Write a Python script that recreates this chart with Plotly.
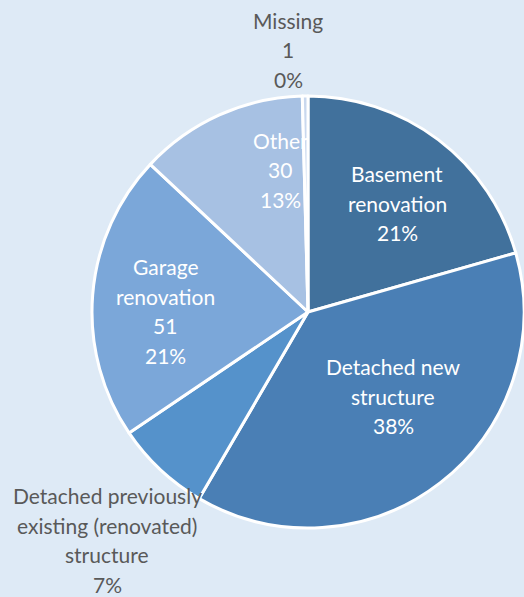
import plotly.graph_objects as go

labels = ["Basement renovation", "Detached new structure",
          "Detached previously existing (renovated) structure",
          "Garage renovation", "Other", "Missing"]
values = [49, 90, 17, 51, 30, 1]
percents = ["21%", "38%", "7%", "21%", "13%", "0%"]
label_lines = [["Basement", "renovation"], ["Detached new", "structure"],
               ["Detached previously", "existing (renovated)", "structure"],
               ["Garage", "renovation"], ["Other"], ["Missing"]]
show_value = [False, False, False, True, True, True]
colors = ["#41719C", "#4A7FB5", "#5592CB", "#7BA7D9", "#A7C1E3", "#C9D8EE"]

W, H = 524, 597
CX, CY, R = 308, 312, 216
# label block centres (pixels) and colours
label_pos = [(397, 203), (393, 396), (107, 540), (165, 311), (280, 170), (288, 50)]
label_col = ["white", "white", "#595959", "white", "white", "#595959"]
LINE = 29.5

fig = go.Figure(go.Pie(
    labels=labels, values=values, sort=False, direction="clockwise", rotation=0,
    marker=dict(colors=colors, line=dict(color="white", width=3)),
    textinfo="none",
    domain=dict(x=[(CX - R) / W, (CX + R) / W], y=[(H - CY - R) / H, (H - CY + R) / H]),
    showlegend=False, hoverinfo="label+value+percent",
))

for i in range(len(labels)):
    lines = list(label_lines[i])
    if show_value[i]:
        lines.append(str(values[i]))
    lines.append(percents[i])
    cx, cy = label_pos[i]
    n = len(lines)
    for j, ln in enumerate(lines):
        y = cy + (j - (n - 1) / 2) * LINE
        fig.add_annotation(text=ln, x=cx / W, y=1 - y / H, xref="paper", yref="paper",
                           xanchor="center", yanchor="middle", showarrow=False,
                           font=dict(color=label_col[i], size=21, family="Lato"))

fig.update_layout(width=W, height=H, margin=dict(l=0, r=0, t=0, b=0),
                  paper_bgcolor="#DEEAF6", plot_bgcolor="#DEEAF6")
fig.write_html("out.html", config={"displayModeBar": False},
               post_script="document.body.style.margin='0';document.body.style.overflow='hidden';")
